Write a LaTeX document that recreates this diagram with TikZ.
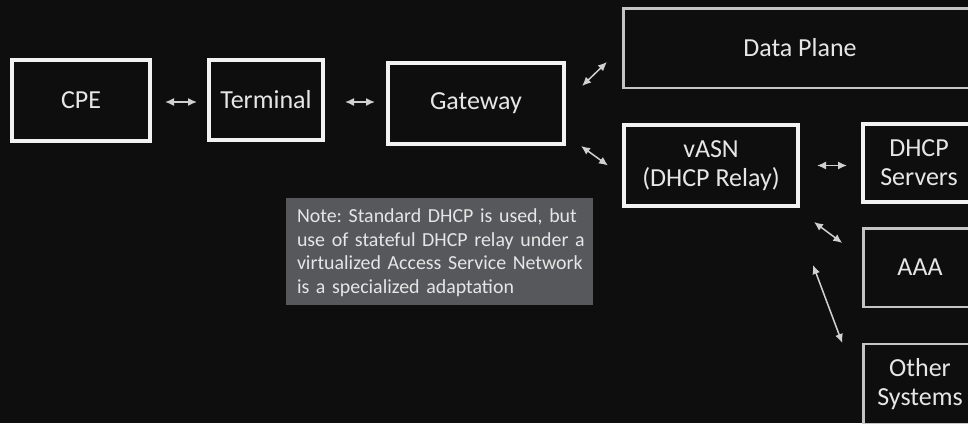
\documentclass[tikz,border=0pt]{standalone}
\usepackage{fontspec}
\setmainfont{Carlito}
\usetikzlibrary{arrows.meta,calc}
\definecolor{bgcol}{HTML}{0E0E0E}
\definecolor{notefill}{HTML}{56585B}
\definecolor{boldline}{HTML}{F2F2F2}
\definecolor{thinline}{HTML}{C4C4C4}
\definecolor{txtcol}{HTML}{E6E6E6}
\definecolor{linkcol}{HTML}{D0D0D0}
\frenchspacing
\tikzset{
  box/.style={draw=boldline, line width=4pt, fill=bgcol, text=txtcol,
    font=\fontsize{26}{29}\selectfont, align=center, inner sep=0pt},
  thinbox/.style={box, draw=thinline, line width=2.5pt},
  link/.style={draw=linkcol, line width=1.5pt,
    {Latex[length=9pt,width=8pt]}-{Latex[length=9pt,width=8pt]}},
  notebox/.style={fill=notefill, draw=none, inner sep=0pt,
    minimum width=307pt, minimum height=107pt},
  notetext/.style={text=txtcol, font=\fontsize{19.9}{23.5}\selectfont,
    align=left, inner sep=0pt, text width=300pt, anchor=west}
}
\begin{document}
\begin{tikzpicture}[x=1pt,y=-1pt]
  \fill[bgcol] (0,0) rectangle (968,423);
  \useasboundingbox (0,0) rectangle (968,423);

  % left chain
  \node[box, minimum width=138pt, minimum height=81pt] (cpe) at (81,100.5) {CPE};
  \node[box, minimum width=114pt, minimum height=80pt] (term) at (266,100) {Terminal};
  \node[box, minimum width=176pt, minimum height=81pt] (gw) at (476,103.5) {Gateway};

  % upper right: data plane
  \node[thinbox, minimum width=353.5pt, minimum height=79.5pt] (dp) at (800,48) {Data Plane};

  % relay and back-end systems
  \node[box, minimum width=174pt, minimum height=81pt] (vasn) at (711,165.5) {vASN\\(DHCP Relay)};
  \node[box, minimum width=112pt, minimum height=78pt] (dhcp) at (919,163) {DHCP\\Servers};
  \node[thinbox, minimum width=113pt, minimum height=78.5pt] (aaa) at (920,267.5) {AAA};
  \node[thinbox, minimum width=113pt, minimum height=80pt] (other) at (920,384) {Other\\Systems};

  % note panel and its text
  \node[notebox] (note) at (439.5,251.5) {};
  \node[notetext] (notetxt) at ($(note.west)+(11,1)$) {Note: Standard DHCP is used, but\\use of stateful DHCP relay under a\\virtualized Access Service Network\\is a specialized adaptation};

  % connectors
  \draw[link] ($(cpe.east)+(13,1.5)$) -- ($(term.west)+(-10,2)$);
  \draw[link] ($(term.east)+(20,2)$) -- ($(gw.west)+(-11,-1.5)$);
  \draw[link] ($(gw.north east)+(16,25)$) -- ($(dp.west)+(-15,14)$);
  \draw[link] ($(gw.south east)+(15,0)$) -- ($(vasn.west)+(-14,0)$);
  \draw[link] ($(vasn.east)+(17,0)$) -- ($(dhcp.west)+(-14,2.5)$);
  \draw[link] ($(vasn.south east)+(14,14)$) -- ($(aaa.west)+(-20,-24.5)$);
  \draw[link] ($(vasn.south east)+(13,57)$) -- ($(other.west)+(-20,-41)$);
\end{tikzpicture}
\end{document}
